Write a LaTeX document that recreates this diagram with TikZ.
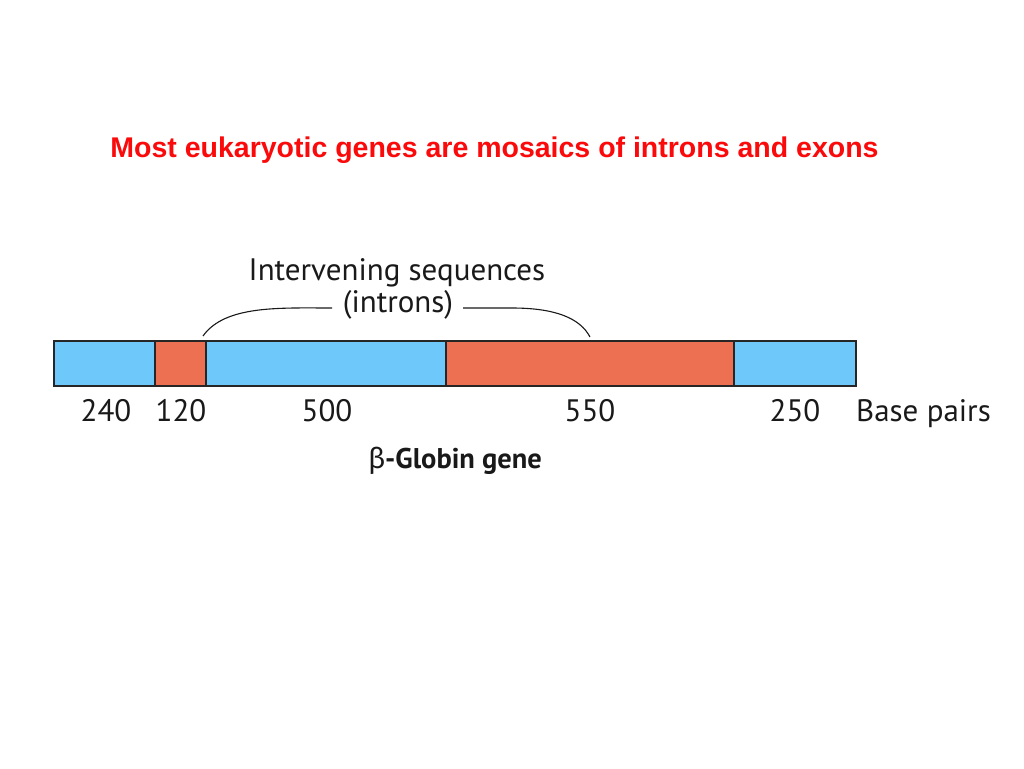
\documentclass[tikz,border=0pt]{standalone}
\usepackage{fontspec}
\setmainfont{PT Sans}
\newfontfamily\titlefont{Liberation Sans}
\newfontfamily\betafont{Fira Sans}
\definecolor{exonblue}{RGB}{110,200,250}
\definecolor{intronred}{RGB}{238,112,82}
\definecolor{titlered}{RGB}{250,10,10}
\begin{document}
\begin{tikzpicture}[x=1pt,y=-1pt,
  seg/.style={draw=black!85,line width=1.3pt},
  num/.style={font=\fontsize{31}{33}\selectfont,text=black!90,inner sep=0pt,anchor=base},
  brace/.style={draw=black!90,line width=1.1pt}]
\useasboundingbox (0,0) rectangle (1024,768);
\fill[white] (0,0) rectangle (1024,768);
\node[font=\titlefont\bfseries\fontsize{28.5}{32}\selectfont,text=titlered,inner sep=0pt] (title) at (494.5,150) {Most eukaryotic genes are mosaics of introns and exons};
% gene bar
\path[seg,fill=exonblue] (54,341) rectangle (155,386);
\path[seg,fill=intronred] (155,341) rectangle (206,386);
\path[seg,fill=exonblue] (206,341) rectangle (446,386);
\path[seg,fill=intronred] (446,341) rectangle (734,386);
\path[seg,fill=exonblue] (734,341) rectangle (856,386);
\coordinate (bl) at (203,336);
\coordinate (br) at (590,337);
% labels
\node[font=\fontsize{31}{33}\selectfont,text=black!90,inner sep=0pt] (iv) at (397,273) {Intervening sequences};
\node[font=\fontsize{31}{33}\selectfont,text=black!90,inner sep=0pt] (intr) at (398,305) {(introns)};
\draw[brace] (bl) .. controls (225,305) and (280,308) .. (332,308);
\draw[brace] (463,308) -- (512,308) .. controls (555,308) and (580,318) .. (br);
\node[num] (n1) at (106,421) {240};
\node[num] (n2) at (181,421) {120};
\node[num] (n3) at (327,421) {500};
\node[num] (n4) at (590,421) {550};
\node[num] (n5) at (795,421) {250};
\node[num,anchor=base west] (bp) at (856,421) {Base pairs};
\node[font=\bfseries\fontsize{28.5}{32}\selectfont,text=black!90,inner sep=0pt,anchor=base] (gene) at (455,468) {{\betafont\mdseries β}-Globin gene};
\end{tikzpicture}
\end{document}
